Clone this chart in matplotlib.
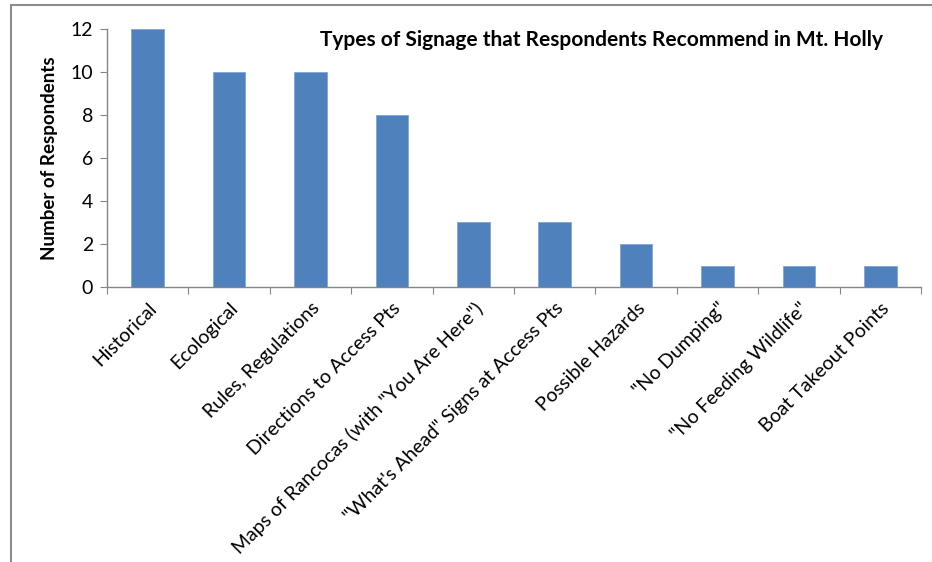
import matplotlib.pyplot as plt
from matplotlib.lines import Line2D

categories = ['Historical', 'Ecological', 'Rules, Regulations', 'Directions to Access Pts',
              'Maps of Rancocas (with "You Are Here")', '"What\'s Ahead" Signs at Access Pts',
              'Possible Hazards', '"No Dumping"', '"No Feeding Wildlife"', 'Boat Takeout Points']
respondents = [12, 10, 10, 8, 3, 3, 2, 1, 1, 1]

plt.rcParams['font.family'] = ['Lato', 'DejaVu Sans']

fig = plt.figure(figsize=(9.32, 5.62), dpi=100)
ax = fig.add_axes([107/932, 1 - 287/562, (921-107)/932, (287-29)/562])

x = range(len(categories))
ax.bar(x, respondents, width=0.4, color='#4F81BD', edgecolor='#7FA7D8', linewidth=0.6, zorder=3)

ax.set_xlim(-0.5, len(categories) - 0.5)
ax.set_ylim(0, 12)
ax.set_yticks(range(0, 13, 2))
ax.set_xticks([i - 0.5 for i in range(len(categories) + 1)], minor=False)
ax.set_xticklabels([])
ax.set_xticks(list(x), minor=True)
ax.set_xticklabels(categories, minor=True, rotation=45, ha='right', va='top',
                   rotation_mode='anchor', fontsize=14)
ax.tick_params(axis='x', which='minor', length=0, pad=9)
ax.tick_params(axis='x', which='major', length=5, color='#868686', direction='out')
ax.tick_params(axis='y', length=5, color='#868686', labelsize=14, pad=5)

for s in ['top', 'right']:
    ax.spines[s].set_visible(False)
for s in ['left', 'bottom']:
    ax.spines[s].set_color('#868686')
    ax.spines[s].set_linewidth(1)

ax.set_ylabel('Number of Respondents', fontsize=13.5, fontweight='bold', labelpad=9)
ax.text(0.607, 0.957, 'Types of Signage that Respondents Recommend in Mt. Holly',
        transform=ax.transAxes, ha='center', va='center', fontsize=15, fontweight='bold')

# outer chart frame (cropped at right and bottom)
fig.add_artist(Line2D([11/932, 1], [1 - 5/562, 1 - 5/562], color='#8c8c8c', lw=1.5,
                      transform=fig.transFigure))
fig.add_artist(Line2D([11/932, 11/932], [0, 1 - 5/562], color='#8c8c8c', lw=1.5,
                      transform=fig.transFigure))

plt.savefig('out.png', dpi=100)
